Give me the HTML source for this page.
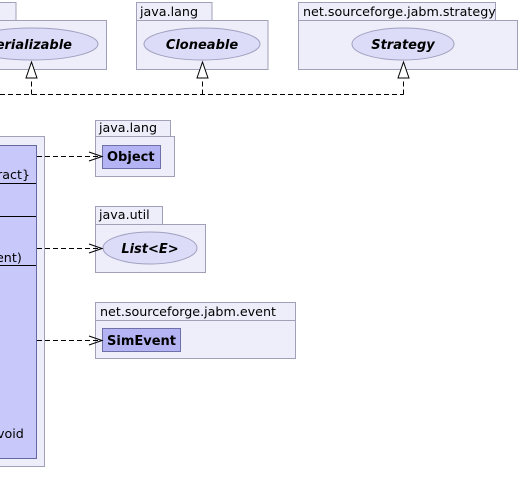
<!DOCTYPE html>
<html><head><meta charset="utf-8"><style>
html,body{margin:0;padding:0;background:#fff;width:521px;height:504px;overflow:hidden}
text{font-family:"DejaVu Sans","Liberation Sans",sans-serif}
</style></head><body>
<svg width="521" height="504" viewBox="0 0 521 504" xmlns="http://www.w3.org/2000/svg">
<g fill="#eeeefa" stroke="#a0a0b8" stroke-width="1">
<rect x="-5" y="2.5" width="21" height="18"/><rect x="-5" y="20.5" width="111.5" height="49"/>
<rect x="136.5" y="2.5" width="75.5" height="18"/><rect x="136.5" y="20.5" width="131.5" height="49"/>
<rect x="298.5" y="2.5" width="197" height="18"/><rect x="298.5" y="20.5" width="219" height="49"/>
<rect x="-5" y="136.5" width="49.5" height="330"/>
<rect x="95.5" y="120.5" width="75" height="16"/><rect x="95.5" y="136.5" width="79" height="40"/>
<rect x="95.5" y="206.5" width="67" height="18"/><rect x="95.5" y="224.5" width="110" height="48"/>
<rect x="95.5" y="302.5" width="200" height="18"/><rect x="95.5" y="320.5" width="200" height="38"/>
</g>
<g fill="#dcdcf8" stroke="#a0a0c0">
<ellipse cx="32" cy="44" rx="66" ry="16"/>
<ellipse cx="202" cy="44" rx="58" ry="16"/>
<ellipse cx="403" cy="44" rx="51" ry="16"/>
<ellipse cx="150" cy="248" rx="47" ry="16"/>
</g>
<g fill="#c8c8fa" stroke="#6868a0">
<rect x="-5" y="145.5" width="41.5" height="313"/>
</g>
<g fill="#b4b4f4" stroke="#7070a8">
<rect x="102.5" y="145.5" width="58" height="23"/>
<rect x="102.5" y="328.5" width="78" height="23"/>
</g>
<g stroke="#000" stroke-width="1">
<line x1="-5" y1="183.5" x2="36" y2="183.5"/><line x1="-5" y1="216.5" x2="36" y2="216.5"/><line x1="-5" y1="265.5" x2="36" y2="265.5"/>
</g>
<g stroke="#000" fill="none" stroke-dasharray="5,3">
<path d="M0 94.5H403.5M31.5 94.5V78M202.5 94.5V78M403.5 94.5V78"/>
<path d="M37 156.5H100M37 248.5H100M37 340.5H100"/>
</g>
<g stroke="#000" fill="#fff">
<path d="M31.5 62L26 78H37Z"/><path d="M202.5 62L197 78H208Z"/><path d="M403.5 62L398 78H409Z"/>
</g>
<g stroke="#000" fill="none"><path d="M89 152L102 156.5L89 161M89 244L102 248.5L89 253M89 336L102 340.5L89 345"/></g>
<g font-size="12.7" fill="#000">
<text x="140" y="16">java.lang</text>
<text x="303" y="16">net.sourceforge.jabm.strategy</text>
<text x="99" y="132">java.lang</text>
<text x="99" y="219">java.util</text>
<text x="100" y="316">net.sourceforge.jabm.event</text>
<text x="-3" y="179">ract}</text>
<text x="-4" y="262">ent)</text>
<text x="-3" y="438">void</text>
</g>
<g font-size="13" font-weight="bold" fill="#000">
<text x="72" y="49" text-anchor="end" font-style="italic">erializable</text>
<text x="202" y="49" text-anchor="middle" font-style="italic">Cloneable</text>
<text x="403" y="49" text-anchor="middle" font-style="italic">Strategy</text>
<text x="150" y="253" text-anchor="middle" font-style="italic">List&lt;E&gt;</text>
<text x="107" y="161">Object</text>
<text x="107" y="345">SimEvent</text>
</g>
</svg>
</body></html>
